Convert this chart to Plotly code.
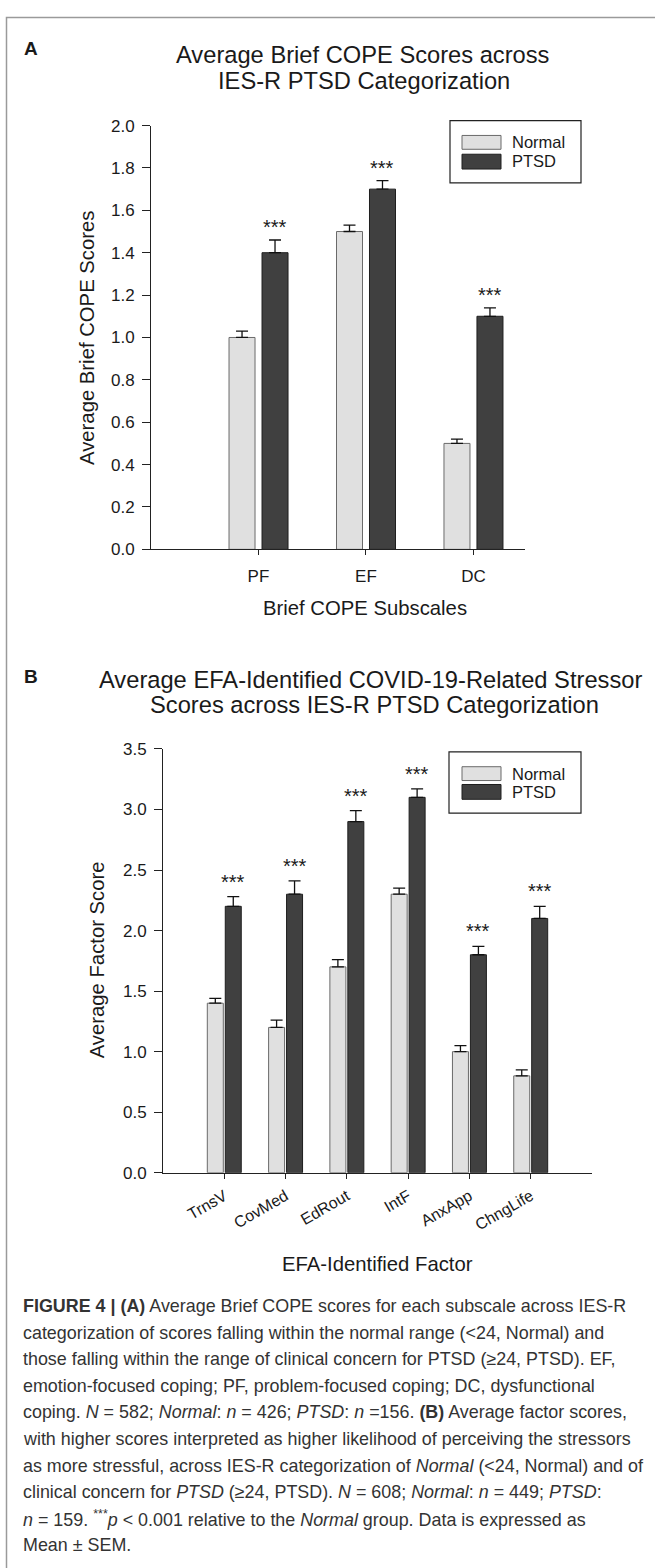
import plotly.graph_objects as go

W, H = 655, 1568
FONT = "Liberation Sans, Arial, Helvetica, sans-serif"
INK = "#1a1a1a"

# ---------------- Panel A data ----------------
cope_cats = ["PF", "EF", "DC"]
cope_normal = [1.0, 1.5, 0.5]
cope_normal_sem = [0.03, 0.03, 0.02]
cope_ptsd = [1.4, 1.7, 1.1]
cope_ptsd_sem = [0.06, 0.04, 0.04]
cope_sig = ["***", "***", "***"]
cope_yticks = [0.0, 0.2, 0.4, 0.6, 0.8, 1.0, 1.2, 1.4, 1.6, 1.8, 2.0]

# ---------------- Panel B data ----------------
efa_cats = ["TrnsV", "CovMed", "EdRout", "IntF", "AnxApp", "ChngLife"]
efa_normal = [1.4, 1.2, 1.7, 2.3, 1.0, 0.8]
efa_normal_sem = [0.04, 0.06, 0.06, 0.05, 0.05, 0.05]
efa_ptsd = [2.2, 2.3, 2.9, 3.1, 1.8, 2.1]
efa_ptsd_sem = [0.08, 0.11, 0.09, 0.07, 0.07, 0.10]
efa_sig = ["***"] * 6
efa_yticks = [0.0, 0.5, 1.0, 1.5, 2.0, 2.5, 3.0, 3.5]

group_names = ["Normal", "PTSD"]
group_fill = ["#e0e0e0", "#404040"]
group_edge = ["#6a6a6a", "#1e1e1e"]

caption_lines = [
    "<b>FIGURE 4 | (A)</b> Average Brief COPE scores for each subscale across IES-R",
    "categorization of scores falling within the normal range (&lt;24, Normal) and",
    "those falling within the range of clinical concern for PTSD (\u226524, PTSD). EF,",
    "emotion-focused coping; PF, problem-focused coping; DC, dysfunctional",
    "coping. <i>N</i> = 582; <i>Normal</i>: <i>n</i> = 426; <i>PTSD</i>: <i>n</i> =156. <b>(B)</b> Average factor scores,",
    "with higher scores interpreted as higher likelihood of perceiving the stressors",
    "as more stressful, across IES-R categorization of <i>Normal</i> (&lt;24, Normal) and of",
    "clinical concern for <i>PTSD</i> (\u226524, PTSD). <i>N</i> = 608; <i>Normal</i>: <i>n</i> = 449; <i>PTSD</i>:",
    "<i>n</i> = 159. <sup>***</sup><i>p</i> &lt; 0.001 relative to the <i>Normal</i> group. Data is expressed as",
    "Mean \u00b1 SEM.",
]


def px(x):
    return x / W


def py(y):
    return 1 - y / H


fig = go.Figure()

# bar geometry (category units)
A_w, A_off = 0.242, [-0.274, 0.033]
B_w, B_off = 0.261, [-0.277, 0.016]

for g, (vals, sems) in enumerate([(cope_normal, cope_normal_sem), (cope_ptsd, cope_ptsd_sem)]):
    fig.add_trace(go.Bar(
        x=cope_cats, y=vals, xaxis="x", yaxis="y", name=group_names[g],
        width=A_w, offset=A_off[g],
        marker=dict(color=group_fill[g], line=dict(color=group_edge[g], width=1)),
        error_y=dict(type="data", array=sems, arrayminus=[0] * len(sems), symmetric=False,
                     color="#111", thickness=1.3, width=6),
        showlegend=False,
    ))

for g, (vals, sems) in enumerate([(efa_normal, efa_normal_sem), (efa_ptsd, efa_ptsd_sem)]):
    fig.add_trace(go.Bar(
        x=efa_cats, y=vals, xaxis="x2", yaxis="y2", name=group_names[g],
        width=B_w, offset=B_off[g],
        marker=dict(color=group_fill[g], line=dict(color=group_edge[g], width=1)),
        error_y=dict(type="data", array=sems, arrayminus=[0] * len(sems), symmetric=False,
                     color="#111", thickness=1.3, width=6),
        showlegend=False,
    ))

annotations = []
shapes = []

# significance marks
for i, c in enumerate(cope_cats):
    annotations.append(dict(x=c, y=cope_ptsd[i] + cope_ptsd_sem[i], xref="x", yref="y",
                            text=cope_sig[i], showarrow=False, yanchor="bottom",
                            xshift=16.5, yshift=0, font=dict(size=20, color=INK, family=FONT)))
for i, c in enumerate(efa_cats):
    annotations.append(dict(x=c, y=efa_ptsd[i] + efa_ptsd_sem[i], xref="x2", yref="y2",
                            text=efa_sig[i], showarrow=False, yanchor="bottom",
                            xshift=9, yshift=2, font=dict(size=20, color=INK, family=FONT)))


def text(x, y, s, size, xanchor="center", color=INK, angle=0):
    annotations.append(dict(x=px(x), y=py(y), xref="paper", yref="paper", text=s,
                            showarrow=False, xanchor=xanchor, yanchor="middle",
                            textangle=angle, font=dict(size=size, color=color, family=FONT)))


# panel letters and titles
text(22, 40, "<b>A</b>", 19, xanchor="left")
text(362, 47, "Average Brief COPE Scores across", 23.7)
text(364, 73, "IES-R PTSD Categorization", 23.7)
text(87, 333, "Average Brief COPE Scores", 20.3, angle=-90)
text(365, 606, "Brief COPE Subscales", 20.3)

text(22, 676, "<b>B</b>", 19, xanchor="left")
text(370, 679, "Average EFA-Identified COVID-19-Related Stressor", 23.7)
text(374, 705, "Scores across IES-R PTSD Categorization", 23.7)
text(97, 963, "Average Factor Score", 20.3, angle=-90)
text(377, 1270, "EFA-Identified Factor", 20.3)


# legends (manual, to mimic wide swatches)
def legend(x0, y0, x1, y1, sw_rows, txt_rows):
    shapes.append(dict(type="rect", xref="paper", yref="paper", x0=px(x0), x1=px(x1),
                       y0=py(y0), y1=py(y1), line=dict(color="#222", width=1.2), fillcolor="white"))
    for g in range(2):
        a, b = sw_rows[g]
        shapes.append(dict(type="rect", xref="paper", yref="paper", x0=px(462), x1=px(501),
                           y0=py(a), y1=py(b), line=dict(color=group_edge[g], width=1),
                           fillcolor=group_fill[g]))
        text(510, txt_rows[g], group_names[g], 16.5, xanchor="left")


legend(450, 113, 581, 176, [(128, 142), (147, 162)], [135, 154])
legend(449, 752, 581, 814, [(767, 781), (785, 800)], [774, 793])

# caption
for k, line in enumerate(caption_lines):
    text(21, 1313 + k * 26.9, line, 17.9, xanchor="left", color="#333")

# outer frame
shapes.append(dict(type="rect", xref="paper", yref="paper", x0=px(6.5), x1=px(700),
                   y0=py(8.5), y1=py(1640), line=dict(color="#9a9a9a", width=1.5),
                   fillcolor="rgba(0,0,0,0)", layer="below"))

axis_common = dict(showline=True, linecolor="#222", linewidth=1, ticks="outside",
                   tickcolor="#222", showgrid=False, zeroline=False, fixedrange=True,
                   tickfont=dict(family=FONT, size=17, color=INK))

fig.update_layout(
    width=W, height=H, margin=dict(l=0, r=0, t=0, b=0),
    paper_bgcolor="white", plot_bgcolor="white",
    barmode="group",
    font=dict(family=FONT, color=INK),
    xaxis=dict(axis_common, domain=[px(151), px(525)], anchor="y", type="category",
               range=[-1, 2.48], ticklen=5, ticklabelstandoff=6),
    yaxis=dict(axis_common, domain=[py(547), py(118)], anchor="x", range=[0, 2],
               tickvals=cope_yticks, tickformat=".1f", ticklen=8, ticklabelstandoff=4),
    xaxis2=dict(axis_common, domain=[px(163), px(592)], anchor="y2", type="category",
                range=[-1, 6], ticklen=5, tickangle=-30, ticklabelstandoff=2,
                tickfont=dict(family=FONT, size=16, color=INK)),
    yaxis2=dict(axis_common, domain=[py(1178), py(749)], anchor="x2", range=[0, 3.5],
                tickvals=efa_yticks, tickformat=".1f", ticklen=8, ticklabelstandoff=4),
    annotations=annotations,
    shapes=shapes,
)

fig.write_html("out.html", config={"displayModeBar": False},
               post_script="document.body.style.margin='0';")
